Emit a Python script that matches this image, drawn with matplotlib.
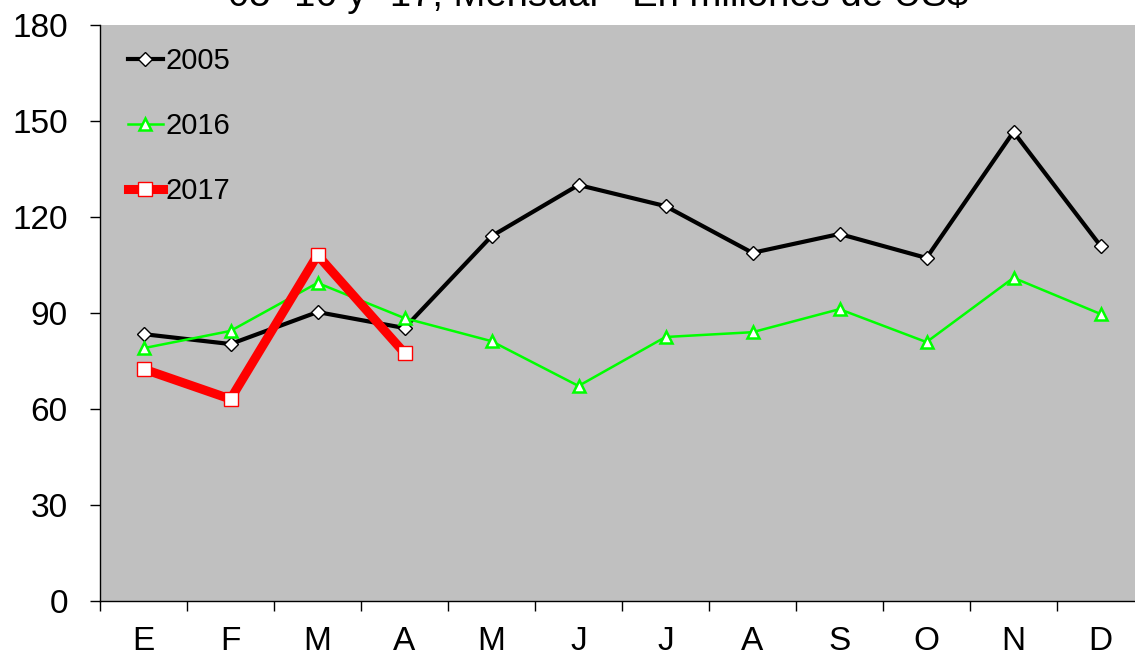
import matplotlib
matplotlib.use("Agg")
import matplotlib.pyplot as plt

months = ["E", "F", "M", "A", "M", "J", "J", "A", "S", "O", "N", "D"]
v2005 = [83.4, 80.3, 90.3, 85.3, 114.0, 130.0, 123.4, 108.8, 114.7, 107.2, 146.6, 111.0]
v2016 = [79.0, 84.4, 99.4, 88.4, 81.2, 67.2, 82.5, 84.0, 91.2, 80.9, 101.0, 89.7]
v2017 = [72.5, 63.1, 108.1, 77.5]
yticks = [0, 30, 60, 90, 120, 150, 180]
title = "05 -16 y -17, Mensual - En millones de US$"

plt.rcParams['font.family'] = ['Liberation Sans', 'DejaVu Sans']

W, H = 1135, 659
fig = plt.figure(figsize=(W / 100, H / 100), dpi=100)
ax = fig.add_axes([100 / W, (H - 601) / H, 1044 / W, 576 / H])
ax.set_facecolor('#C0C0C0')

x = list(range(len(months)))
ax.plot(x, v2005, color='black', lw=3, marker='D', ms=7, mfc='white', mec='black', mew=1, label='2005', zorder=3)
ax.plot(x, v2016, color='#00FF00', lw=1.8, marker='^', ms=8, mfc='white', mec='#00FF00', mew=1.8, label='2016', zorder=3)
ax.plot(x[:len(v2017)], v2017, color='#FF0000', lw=6.5, marker='s', ms=9.5, mfc='white', mec='#FF0000', mew=1, label='2017', zorder=4)

ax.set_xlim(-0.5, 11.5)
ax.set_ylim(0, 180)
ax.set_yticks(yticks)
ax.set_yticklabels([str(t) for t in yticks], fontsize=24)
ax.set_xticks([i + 0.5 for i in range(-1, 12)], minor=False)
ax.set_xticklabels([])
ax.set_xticks(x, minor=True)
ax.set_xticklabels(months, minor=True, fontsize=24)
ax.tick_params(axis='x', which='major', length=7.2, width=1, color='black', direction='out')
ax.tick_params(axis='x', which='minor', length=0, pad=18)
ax.tick_params(axis='y', length=7.2, width=1, pad=16)

for s in ['top', 'right']:
    ax.spines[s].set_visible(False)
ax.spines['left'].set_linewidth(1)
ax.spines['bottom'].set_linewidth(1)

leg = ax.legend(loc='upper left', frameon=False, fontsize=21, handlelength=1.2,
                handletextpad=0.1, labelspacing=1.27, borderaxespad=0.0,
                bbox_to_anchor=(0.0155, 0.982))

fig.text(228 / W, 1 - 6 / H, title, ha='left', va='baseline', fontsize=27.5)

fig.savefig('out.png', dpi=100)
